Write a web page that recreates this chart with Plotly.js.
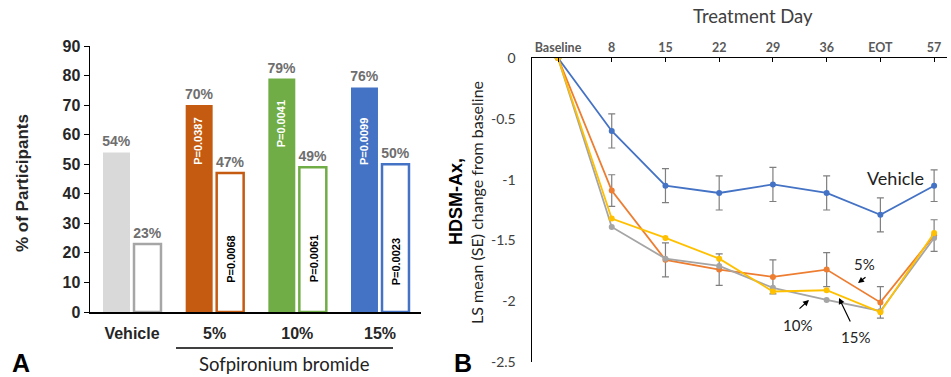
<!DOCTYPE html>
<html><head><meta charset="utf-8">
<script src="https://cdn.plot.ly/plotly-3.0.1.min.js"></script>
<style>html,body{margin:0;padding:0;background:#fff}#chart{width:951px;height:377px}</style>
</head><body><div id="chart"></div>
<script>
// ---------- Panel A data ----------
const groups = ['Vehicle', '5%', '10%', '15%'];
const filledPct = [54, 70, 79, 76];
const openPct = [23, 47, 49, 50];
const filledP = ['', 'P=0.0387', 'P=0.0041', 'P=0.0099'];
const openP = ['', 'P=0.0068', 'P=0.0061', 'P=0.0023'];
const fillColors = ['#D9D9D9', '#C55A11', '#70AD47', '#4472C4'];
const outlineColors = ['#A6A6A6', '#C55A11', '#70AD47', '#4472C4'];

// ---------- Panel B data ----------
const days = ['Baseline', '8', '15', '22', '29', '36', 'EOT', '57'];
const vehicle = [0, -0.60, -1.05, -1.11, -1.04, -1.11, -1.29, -1.05];
const vehicleSE = [null, 0.14, 0.14, 0.14, 0.14, 0.14, 0.14, 0.13];
const dose5 = [0, -1.09, -1.66, -1.74, -1.80, -1.74, -2.01, -1.46];
const dose5SE = [null, 0.13, 0.14, 0.13, 0.14, 0.14, 0.13, 0.13];
const dose10 = [0, -1.39, -1.65, -1.71, -1.89, -1.99, -2.08, -1.48];
const dose15 = [0, -1.32, -1.48, -1.65, -1.92, -1.91, -2.09, -1.44];
const yTickVals = [0, -0.5, -1, -1.5, -2, -2.5];
const yTickText = ['0', '-0.5', '-1', '-1.5', '-2', '-2.5'];

const W = 951, H = 377;
const px = v => v / W, py = v => 1 - v / H;
const ARIAL = 'Liberation Sans, Arial, sans-serif';
const CAL = 'Lato, Carlito, Calibri, sans-serif';

const traces = [
  {type: 'bar', x: groups, y: filledPct, xaxis: 'x', yaxis: 'y',
   marker: {color: fillColors, line: {width: 0}},
   texttemplate: '%{y}%', textposition: 'outside', cliponaxis: false, constraintext: 'none',
   textfont: {family: ARIAL, size: 14, color: '#6E6E6E', weight: 'bold'}, hoverinfo: 'skip'},
  {type: 'bar', x: groups, y: openPct, xaxis: 'x', yaxis: 'y',
   marker: {color: '#FFFFFF', line: {width: 2.5, color: outlineColors}},
   texttemplate: '%{y}%', textposition: 'outside', cliponaxis: false, constraintext: 'none',
   textfont: {family: ARIAL, size: 14, color: '#6E6E6E', weight: 'bold'}, hoverinfo: 'skip'},
  {type: 'scatter', mode: 'lines+markers', x: days, y: vehicle, xaxis: 'x2', yaxis: 'y2',
   line: {color: '#4472C4', width: 1.8}, marker: {color: '#4472C4', size: 6},
   error_y: {type: 'data', array: vehicleSE, color: '#7F7F7F', thickness: 1.2, width: 3.5}},
  {type: 'scatter', mode: 'lines+markers', x: days, y: dose5, xaxis: 'x2', yaxis: 'y2',
   line: {color: '#ED7D31', width: 1.8}, marker: {color: '#ED7D31', size: 6},
   error_y: {type: 'data', array: dose5SE, color: '#7F7F7F', thickness: 1.2, width: 3.5}},
  {type: 'scatter', mode: 'lines+markers', x: days, y: dose10, xaxis: 'x2', yaxis: 'y2',
   line: {color: '#A5A5A5', width: 1.8}, marker: {color: '#A5A5A5', size: 6}},
  {type: 'scatter', mode: 'lines+markers', x: days, y: dose15, xaxis: 'x2', yaxis: 'y2',
   line: {color: '#FFC000', width: 1.8}, marker: {color: '#FFC000', size: 6}}
];

const ann = [];
function txt(x, y, text, font, extra) {
  ann.push(Object.assign({xref: 'paper', yref: 'paper', x: px(x), y: py(y), text: text,
    showarrow: false, xanchor: 'center', yanchor: 'middle', font: font}, extra || {}));
}
// P-value labels inside bars
const pAnchorFilled = [0, 57.8, 63.6, 57.5];
const pAnchorOpen = [0, 17.9, 18.0, 16.8];
groups.forEach((g, i) => {
  if (filledP[i]) ann.push({xref: 'x', yref: 'y', x: g, y: pAnchorFilled[i], xshift: -16, text: filledP[i],
    showarrow: false, textangle: -90, font: {family: ARIAL, size: 11, color: '#FFFFFF', weight: 'bold'}});
  if (openP[i]) ann.push({xref: 'x', yref: 'y', x: g, y: pAnchorOpen[i], xshift: 16, text: openP[i],
    showarrow: false, textangle: -90, font: {family: ARIAL, size: 11, color: '#000000', weight: 'bold'}});
});
txt(22, 183, '% of Participants', {family: ARIAL, size: 17, color: '#262626', weight: 'bold'}, {textangle: -90});
txt(21, 363, 'A', {family: ARIAL, size: 25, color: '#000', weight: 'bold'});
txt(284, 363.5, 'Sofpironium bromide', {family: CAL, size: 18.5, color: '#222'});
txt(753, 16, 'Treatment Day', {family: CAL, size: 18.5, color: '#404040'});
txt(456, 202, 'HDSM-Ax,', {family: ARIAL, size: 18, color: '#000', weight: 'bold'}, {textangle: -90});
txt(476, 203, 'LS mean (SE) change from baseline', {family: CAL, size: 16, color: '#222'}, {textangle: -90});
txt(463, 363, 'B', {family: ARIAL, size: 25, color: '#000', weight: 'bold'});
txt(895, 178, 'Vehicle', {family: CAL, size: 18, color: '#222'});
txt(864, 264, '5%', {family: CAL, size: 15, color: '#222'});
txt(797, 325, '10%', {family: CAL, size: 15, color: '#222'});
txt(855, 337, '15%', {family: CAL, size: 15, color: '#222'});
function arrow(hx, hy, tx, ty) {
  ann.push({xref: 'paper', yref: 'paper', x: px(hx), y: py(hy), ax: tx - hx, ay: ty - hy, text: '',
    showarrow: true, arrowhead: 2, arrowsize: 1, arrowwidth: 1.2, arrowcolor: '#000'});
}
arrow(858, 283, 867, 276);
arrow(809, 300, 798, 310);
arrow(839, 298, 851, 323);

const layout = {
  width: W, height: H, margin: {l: 0, r: 0, t: 0, b: 0}, showlegend: false,
  paper_bgcolor: '#FFFFFF', plot_bgcolor: 'rgba(0,0,0,0)',
  barmode: 'group', bargap: 0.25, bargroupgap: 0.13,
  xaxis: {domain: [px(90), px(421)], type: 'category', range: [-0.508, 3.496], anchor: 'y',
    showline: true, linecolor: '#000', linewidth: 1.5, ticks: 'outside', ticklen: 6,
    tickcolor: 'rgba(0,0,0,0)', showgrid: false, zeroline: false,
    tickfont: {family: ARIAL, size: 16, color: '#262626', weight: 'bold'}},
  yaxis: {domain: [py(312), py(46)], range: [0, 90], dtick: 10, anchor: 'x',
    showline: true, linecolor: '#000', linewidth: 1.5, ticks: 'outside', ticklen: 5, tickcolor: '#000',
    showgrid: false, zeroline: false,
    tickfont: {family: ARIAL, size: 16, color: '#262626', weight: 'bold'}},
  xaxis2: {domain: [px(532), px(947)], type: 'category', range: [-0.484, 7.24], anchor: 'y2', side: 'top',
    showline: true, linecolor: '#000', linewidth: 1.5, ticks: 'inside', ticklen: 4, tickcolor: '#000',
    showgrid: false, zeroline: false,
    tickfont: {family: CAL, size: 12.5, color: '#595959', weight: 'bold'}},
  yaxis2: {domain: [py(362), py(58)], range: [-2.5, 0], anchor: 'x2',
    tickvals: yTickVals, ticktext: yTickText,
    showline: true, linecolor: '#000', linewidth: 1.5, ticks: 'outside', ticklen: 12,
    tickcolor: 'rgba(0,0,0,0)', showgrid: false, zeroline: false,
    tickfont: {family: CAL, size: 14, color: '#404040'}},
  annotations: ann,
  shapes: [{type: 'line', xref: 'paper', yref: 'paper', x0: px(176), x1: px(393), y0: py(348), y1: py(348),
    line: {color: '#000', width: 1.3}}]
};

Plotly.newPlot('chart', traces, layout, {displayModeBar: false, staticPlot: true});
</script></body></html>
